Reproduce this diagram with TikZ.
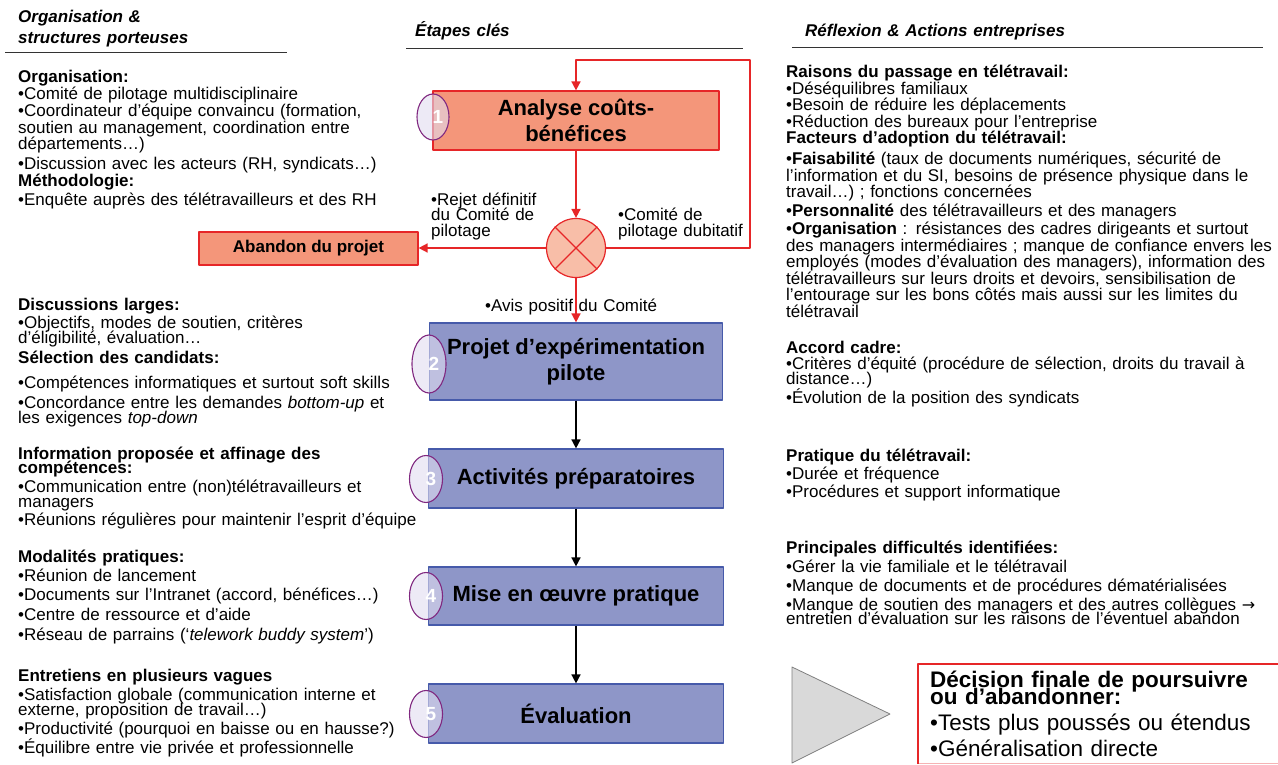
\documentclass[tikz,border=0pt]{standalone}
\usepackage{fontspec}
\setmainfont{Liberation Sans}
\newfontfamily\fleches{DejaVu Sans}
\usetikzlibrary{arrows.meta,shapes.geometric}
\definecolor{rouge}{RGB}{230,38,40}
\definecolor{saumon}{RGB}{244,150,122}
\definecolor{saumonclair}{RGB}{248,190,168}
\definecolor{bleu}{RGB}{142,150,200}
\definecolor{bleufonce}{RGB}{70,90,170}
\definecolor{lavande}{RGB}{225,220,240}
\definecolor{prune}{RGB}{128,40,128}
\definecolor{gristri}{RGB}{217,217,217}
\newcommand\serre{\lineskiplimit-20pt\relax}
\begin{document}
\begin{tikzpicture}[x=1pt,y=-1pt,>={Triangle[length=9pt,width=9pt]}, line join=round,
	txt/.style={anchor=base west,inner sep=0pt,align=left,text width=500,
		font=\fontsize{17}{16.5}\selectfont\serre},
	titre/.style={txt,font=\fontsize{17}{21}\selectfont\bfseries\itshape},
	etape/.style={draw=bleufonce,fill=bleu,line width=1.2pt,align=center,
		minimum width=295,font=\fontsize{22}{26}\selectfont\bfseries},
	pastille/.style={ellipse,draw=prune,fill=lavande,fill opacity=0.6,
		line width=1.1pt,minimum width=33,minimum height=47,inner sep=0pt},
	chiffre/.style={text=white,inner sep=0pt,font=\fontsize{19}{19}\selectfont\bfseries},
	fleche/.style={->,line width=1.6pt},
	regle/.style={line width=1pt,black!80}]
\useasboundingbox (0,0) rectangle (1278,765);
% en-tetes des trois colonnes
\node (hgauche) [titre] at (18,23) {Organisation \&\\structures porteuses};
\node (hmilieu) [titre] at (415,37) {Étapes clés};
\node (hdroite) [titre] at (805,37) {Réflexion \& Actions entreprises};
\draw[regle] (5,53) -- (287,53);
\draw[regle] (406,49) -- (743,49);
\draw[regle] (792,48) -- (1263,48);
% etapes cles
\node (b1) [etape,draw=rouge,fill=saumon,minimum width=286,minimum height=59] at (576,120.5) {Analyse coûts-\\bénéfices};
\node (cr) [circle,draw=rouge,fill=saumonclair,line width=1.2pt,minimum size=59] at (576,248) {};
\draw[rouge,line width=1.2pt] (cr.north west) -- (cr.south east) (cr.north east) -- (cr.south west);
\node (ab) [draw=rouge,fill=saumon,line width=1.2pt,minimum width=219,minimum height=33,
	font=\fontsize{17}{17}\selectfont\bfseries] at (308.5,248.5) {Abandon du projet};
\node (b2) [etape,minimum width=293,minimum height=77] at (576,361.5) {Projet d’expérimentation\\pilote};
\node (b3) [etape,minimum height=59] at (576,478.5) {Activités préparatoires};
\node (b4) [etape,minimum height=58] at (576,596) {Mise en œuvre pratique};
\node (b5) [etape,minimum height=59] at (576,713.5) {Évaluation};
\coordinate (boucle) at (750,60);
\draw[fleche,rouge] (b1) -- (cr);
\draw[fleche,rouge] (cr.west) -- (cr.west -| ab.east);
\draw[fleche,rouge] (cr) -- (b2);
\draw[fleche,rouge] (cr.east) -| (boucle) -| (b1.north);
\draw[fleche] (b2) -- (b3);
\draw[fleche] (b3) -- (b4);
\draw[fleche] (b4) -- (b5);
\node (e1) [pastille,minimum width=32,minimum height=46] at (433,117) {};
\node (e2) [pastille,minimum width=34,minimum height=58] at (429,364) {};
\node (e3) [pastille] at (426,479) {};
\node (e4) [pastille] at (426,596) {};
\node (e5) [pastille] at (426,714) {};
\node (n1) [chiffre] at ([xshift=5pt]e1.center) {1};
\node (n2) [chiffre] at ([xshift=5pt]e2.center) {2};
\node (n3) [chiffre] at ([xshift=5pt]e3.center) {3};
\node (n4) [chiffre] at ([xshift=5pt]e4.center) {4};
\node (n5) [chiffre] at ([xshift=5pt]e5.center) {5};
\node (lrejet) [txt] at (431,205) {•Rejet définitif\\[-0.5pt]du Comité de\\[-0.5pt]pilotage};
\node (ldubit) [txt] at (618,220) {•Comité de\\[0.5pt]pilotage dubitatif};
\node (lavis) [txt] at (485,311) {•Avis positif du Comité};
% colonne de gauche
\node (org) [txt] at (18,83) {\textbf{Organisation:}\\
•Comité de pilotage multidisciplinaire\\[1pt]
•Coordinateur d’équipe convaincu (formation,\\
soutien au management, coordination entre\\
départements…)\\[3.5pt]
•Discussion avec les acteurs (RH, syndicats…)\\
\textbf{Méthodologie:}\\[2.5pt]
•Enquête auprès des télétravailleurs et des RH};
\node (disc) [txt] at (18,310) {\textbf{Discussions larges:}\\[1.5pt]
•Objectifs, modes de soutien, critères\\[-1.5pt]
d’éligibilité, évaluation…\\[3.5pt]
\textbf{Sélection des candidats:}\\[8.5pt]
•Compétences informatiques et surtout soft skills\\[3.5pt]
•Concordance entre les demandes \textit{bottom-up} et\\[-1.5pt]
les exigences \textit{top-down}};
\node (info) [txt] at (18,459) {\textbf{Information proposée et affinage des}\\[-2pt]
\textbf{compétences:}\\[2.5pt]
•Communication entre (non)télétravailleurs et\\[-1.5pt]
managers\\[1.5pt]
•Réunions régulières pour maintenir l’esprit d’équipe};
\node (moda) [txt] at (18,562) {\textbf{Modalités pratiques:}\\[2.5pt]
•Réunion de lancement\\[2.5pt]
•Documents sur l’Intranet (accord, bénéfices…)\\[3.5pt]
•Centre de ressource et d’aide\\[3.5pt]
•Réseau de parrains (‘\textit{telework buddy system}’)};
\node (entr) [txt] at (18,681) {\textbf{Entretiens en plusieurs vagues}\\[2.5pt]
•Satisfaction globale (communication interne et\\[-1.5pt]
externe, proposition de travail…)\\[2.5pt]
•Productivité (pourquoi en baisse ou en hausse?)\\[2.5pt]
•Équilibre entre vie privée et professionnelle};
% colonne de droite
\node (rais) [txt] at (786,78) {\textbf{Raisons du passage en télétravail:}\\
•Déséquilibres familiaux\\
•Besoin de réduire les déplacements\\
•Réduction des bureaux pour l’entreprise\\
\textbf{Facteurs d’adoption du télétravail:}\\[4.5pt]
•\textbf{Faisabilité} (taux de documents numériques, sécurité de\\
l’information et du SI, besoins de présence physique dans le\\
travail…) ; fonctions concernées\\[2pt]
•\textbf{Personnalité} des télétravailleurs et des managers\\[2pt]
•\textbf{Organisation} : résistances des cadres dirigeants et surtout\\
des managers intermédiaires ; manque de confiance envers les\\
employés (modes d’évaluation des managers), information des\\
télétravailleurs sur leurs droits et devoirs, sensibilisation de\\
l’entourage sur les bons côtés mais aussi sur les limites du\\
télétravail};
\node (acc) [txt] at (786,353) {\textbf{Accord cadre:}\\
•Critères d’équité (procédure de sélection, droits du travail à\\[-1.5pt]
distance…)\\[2.5pt]
•Évolution de la position des syndicats};
\node (prat) [txt] at (786,461) {\textbf{Pratique du télétravail:}\\[1.5pt]
•Durée et fréquence\\[1.5pt]
•Procédures et support informatique};
\node (diff) [txt] at (786,553) {\textbf{Principales difficultés identifiées:}\\[2.5pt]
•Gérer la vie familiale et le télétravail\\[2.5pt]
•Manque de documents et de procédures dématérialisées\\[2.5pt]
•Manque de soutien des managers et des autres collègues {\fleches\fontsize{16}{16}\selectfont →}\\[-2pt]
entretien d’évaluation sur les raisons de l’éventuel abandon};
% decision finale
\draw[fill=gristri,draw=gray,line width=0.8pt] (792,667) -- (792,763) -- (890,714) -- cycle;
\draw[rouge!35,line width=1pt] (918,763) -- (1278,763);
\draw[rouge,line width=2.5pt] (918,764) |- (1278,664);
\node (fin) [txt,font=\fontsize{22.5}{17.5}\selectfont\serre] at (930,687)
	{\textbf{Décision finale de poursuivre}\\
	\textbf{ou d’abandonner:}\\[8pt]
	•Tests plus poussés ou étendus\\[8.5pt]
	•Généralisation directe};
\end{tikzpicture}
\end{document}
